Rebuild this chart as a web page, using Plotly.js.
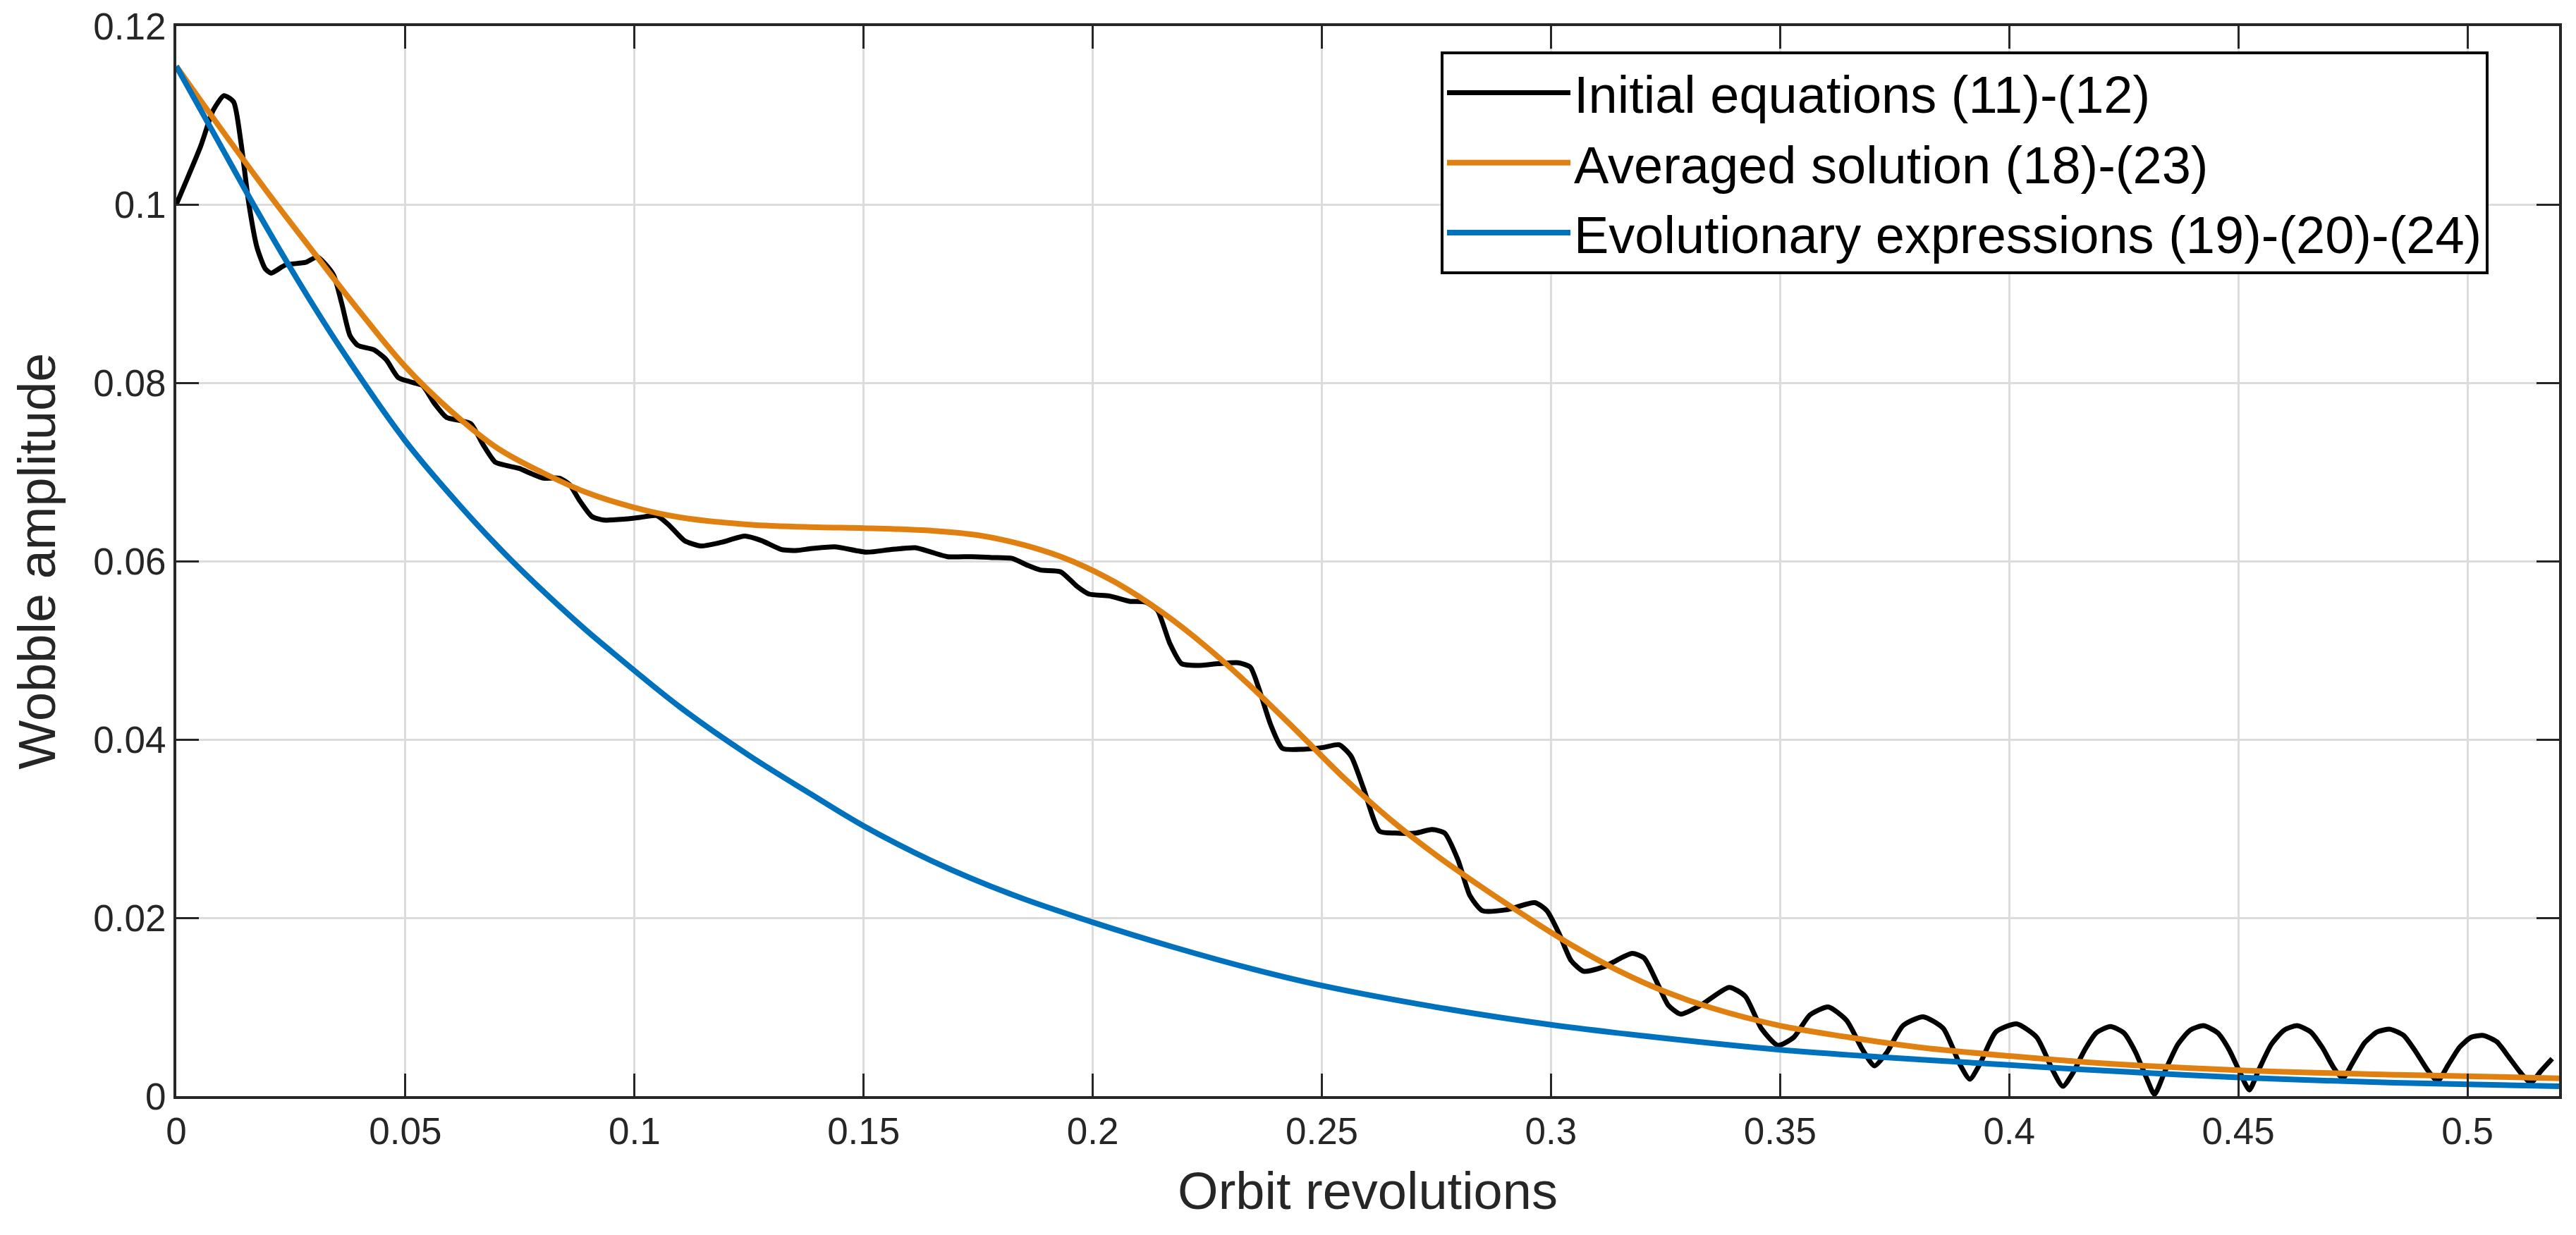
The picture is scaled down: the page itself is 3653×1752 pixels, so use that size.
<!DOCTYPE html>
<html>
<head>
<meta charset="utf-8">
<script src="https://cdn.plot.ly/plotly-3.0.1.min.js"></script>
<style>
	html, body { margin: 0; padding: 0; background: #fff; }
	#chart { width: 3653px; height: 1752px; }
</style>
</head>
<body>
<div id="chart"></div>
<script>
// values
const initialX = [
	0.0000, 0.0053, 0.0080, 0.0104, 0.0125, 0.0141, 0.0158, 0.0176, 0.0194, 0.0207,
	0.0238, 0.0282, 0.0308, 0.0343, 0.0361, 0.0379, 0.0396, 0.0431, 0.0458, 0.0484,
	0.0511, 0.0537, 0.0563, 0.0590, 0.0616, 0.0643, 0.0669, 0.0696, 0.0722, 0.0748,
	0.0775, 0.0801, 0.0836, 0.0858, 0.0880, 0.0907, 0.0933, 0.0977, 0.1012, 0.1048,
	0.1074, 0.1109, 0.1145, 0.1189, 0.1241, 0.1277, 0.1321, 0.1356, 0.1384, 0.1437,
	0.1507, 0.1560, 0.1613, 0.1648, 0.1683, 0.1736, 0.1780, 0.1824, 0.1859, 0.1886,
	0.1930, 0.1965, 0.1992, 0.2036, 0.2080, 0.2115, 0.2141, 0.2168, 0.2194, 0.2229,
	0.2274, 0.2318, 0.2344, 0.2362, 0.2388, 0.2414, 0.2459, 0.2503, 0.2538, 0.2564,
	0.2591, 0.2626, 0.2661, 0.2705, 0.2740, 0.2768, 0.2797, 0.2823, 0.2850, 0.2903,
	0.2965, 0.2991, 0.3018, 0.3044, 0.3071, 0.3115, 0.3177, 0.3203, 0.3230, 0.3256,
	0.3283, 0.3327, 0.3389, 0.3424, 0.3459, 0.3495, 0.3530, 0.3565, 0.3605, 0.3645,
	0.3680, 0.3706, 0.3733, 0.3768, 0.3812, 0.3856, 0.3892, 0.3914, 0.3936, 0.3971,
	0.4016, 0.4060, 0.4095, 0.4117, 0.4139, 0.4165, 0.4190, 0.4221, 0.4250, 0.4275,
	0.4300, 0.4317, 0.4340, 0.4368, 0.4395, 0.4424, 0.4455, 0.4480, 0.4505, 0.4524,
	0.4545, 0.4572, 0.4600, 0.4628, 0.4658, 0.4684, 0.4708, 0.4728, 0.4750, 0.4776,
	0.4803, 0.4831, 0.4861, 0.4887, 0.4912, 0.4935, 0.4958, 0.4983, 0.5008, 0.5035,
	0.5064, 0.5090, 0.5115, 0.5138, 0.5160, 0.5185,
];
const initialY = [
	0.1000, 0.1065, 0.1105, 0.1122, 0.1115, 0.1070, 0.1002, 0.0952, 0.0928, 0.0923,
	0.0932, 0.0935, 0.0941, 0.0921, 0.0889, 0.0853, 0.0842, 0.0837, 0.0826, 0.0806,
	0.0801, 0.0797, 0.0777, 0.0761, 0.0758, 0.0754, 0.0731, 0.0711, 0.0707, 0.0704,
	0.0698, 0.0693, 0.0693, 0.0686, 0.0668, 0.0650, 0.0646, 0.0647, 0.0649, 0.0651,
	0.0641, 0.0623, 0.0617, 0.0621, 0.0628, 0.0623, 0.0613, 0.0612, 0.0614, 0.0616,
	0.0610, 0.0613, 0.0615, 0.0610, 0.0605, 0.0605, 0.0604, 0.0603, 0.0595, 0.0590,
	0.0588, 0.0572, 0.0563, 0.0561, 0.0555, 0.0554, 0.0545, 0.0508, 0.0485, 0.0483,
	0.0485, 0.0486, 0.0481, 0.0458, 0.0417, 0.0390, 0.0389, 0.0391, 0.0394, 0.0381,
	0.0345, 0.0297, 0.0295, 0.0295, 0.0299, 0.0295, 0.0265, 0.0225, 0.0208, 0.0209,
	0.0217, 0.0208, 0.0182, 0.0152, 0.0140, 0.0145, 0.0160, 0.0155, 0.0129, 0.0102,
	0.0092, 0.0102, 0.0122, 0.0112, 0.0076, 0.0057, 0.0066, 0.0091, 0.0100, 0.0085,
	0.0052, 0.0034, 0.0049, 0.0079, 0.0089, 0.0076, 0.0036, 0.0019, 0.0036, 0.0072,
	0.0081, 0.0066, 0.0029, 0.0011, 0.0026, 0.0052, 0.0071, 0.0078, 0.0071, 0.0050,
	0.0020, 0.0002, 0.0028, 0.0058, 0.0074, 0.0079, 0.0071, 0.0052, 0.0025, 0.0007,
	0.0030, 0.0058, 0.0074, 0.0079, 0.0072, 0.0054, 0.0032, 0.0020, 0.0038, 0.0060,
	0.0072, 0.0075, 0.0068, 0.0050, 0.0030, 0.0017, 0.0035, 0.0055, 0.0066, 0.0068,
	0.0061, 0.0044, 0.0027, 0.0015, 0.0028, 0.0042,
];

const averagedX = [
	0.000, 0.010, 0.020, 0.030, 0.040, 0.050, 0.060, 0.070, 0.080, 0.090,
	0.100, 0.110, 0.125, 0.140, 0.150, 0.165, 0.175, 0.185, 0.195, 0.205,
	0.215, 0.225, 0.235, 0.245, 0.255, 0.265, 0.275, 0.285, 0.295, 0.305,
	0.315, 0.325, 0.335, 0.350, 0.365, 0.380, 0.400, 0.420, 0.450, 0.485,
	0.520,
];
const averagedY = [
	0.1155, 0.1083, 0.1013, 0.0946, 0.0880, 0.0818, 0.0768, 0.0727, 0.0699, 0.0676,
	0.0660, 0.0649, 0.0641, 0.0638, 0.0637, 0.0634, 0.0629, 0.0618, 0.0601, 0.0576,
	0.0543, 0.0503, 0.0457, 0.0407, 0.0356, 0.0310, 0.0270, 0.0234, 0.0200, 0.0168,
	0.0140, 0.0117, 0.0099, 0.0079, 0.0066, 0.0055, 0.0045, 0.0037, 0.0029, 0.0024,
	0.0020,
];

const evolutionX = [
	0.0000, 0.0088, 0.0176, 0.0264, 0.0352, 0.0498, 0.0616, 0.0731, 0.0880, 0.0951,
	0.1100, 0.1250, 0.1384, 0.1500, 0.1648, 0.1824, 0.2000, 0.2177, 0.2353, 0.2500,
	0.2770, 0.3000, 0.3212, 0.3500, 0.3742, 0.4000, 0.4155, 0.4500, 0.4841, 0.5200,
];
const evolutionY = [
	0.1155, 0.1074, 0.0993, 0.0916, 0.0844, 0.0736, 0.0664, 0.0601, 0.0529, 0.0498,
	0.0436, 0.0382, 0.0339, 0.0303, 0.0264, 0.0226, 0.0195, 0.0167, 0.0142, 0.0124,
	0.0098, 0.0080, 0.0067, 0.0052, 0.0043, 0.0035, 0.0030, 0.0021, 0.0015, 0.0011,
];

const seriesNames = [
	"Initial equations (11)-(12)",
	"Averaged solution (18)-(23)",
	"Evolutionary expressions (19)-(20)-(24)",
];

const xTicks = [0, 0.05, 0.1, 0.15, 0.2, 0.25, 0.3, 0.35, 0.4, 0.45, 0.5];
const xTickText = ["0", "0.05", "0.1", "0.15", "0.2", "0.25", "0.3", "0.35", "0.4", "0.45", "0.5"];
const yTicks = [0, 0.02, 0.04, 0.06, 0.08, 0.1, 0.12];
const yTickText = ["0", "0.02", "0.04", "0.06", "0.08", "0.1", "0.12"];

const FONT = "Liberation Sans, Arial, Helvetica, sans-serif";
const INK = "#262626";

const traces = [
	{
		x: initialX,
		y: initialY,
		name: seriesNames[0],
		type: "scatter",
		mode: "lines",
		line: { color: "#000000", width: 7, shape: "spline", smoothing: 0.6 },
	},
	{
		x: averagedX,
		y: averagedY,
		name: seriesNames[1],
		type: "scatter",
		mode: "lines",
		line: { color: "#e08010", width: 8, shape: "spline", smoothing: 1 },
	},
	{
		x: evolutionX,
		y: evolutionY,
		name: seriesNames[2],
		type: "scatter",
		mode: "lines",
		line: { color: "#0072bd", width: 8, shape: "spline", smoothing: 1 },
	},
];

const axisCommon = {
	showline: true,
	linecolor: INK,
	linewidth: 4,
	mirror: "allticks",
	ticks: "inside",
	ticklen: 32,
	tickwidth: 3,
	tickcolor: INK,
	showgrid: true,
	gridcolor: "#dcdcdc",
	gridwidth: 3,
	zeroline: false,
	tickfont: { family: FONT, size: 53, color: INK },
};

const layout = {
	width: 3653,
	height: 1752,
	margin: { l: 250, r: 24, t: 37, b: 197 },
	paper_bgcolor: "#ffffff",
	plot_bgcolor: "#ffffff",
	font: { family: FONT, color: INK },
	showlegend: true,
	legend: {
		x: 0.9704,
		y: 0.9763,
		xanchor: "right",
		yanchor: "top",
		bgcolor: "#ffffff",
		bordercolor: "#000000",
		borderwidth: 4,
		font: { family: FONT, size: 74, color: "#000000" },
		itemwidth: 175,
		tracegroupgap: 0,
	},
	xaxis: Object.assign({}, axisCommon, {
		range: [0, 0.52],
		tickmode: "array",
		tickvals: xTicks,
		ticktext: xTickText,
		title: { text: "Orbit revolutions", font: { family: FONT, size: 74, color: INK }, standoff: 32 },
	}),
	yaxis: Object.assign({}, axisCommon, {
		range: [0, 0.12],
		tickmode: "array",
		tickvals: yTicks,
		ticktext: yTickText,
		title: { text: "Wobble amplitude", font: { family: FONT, size: 74, color: INK }, standoff: 30 },
	}),
};

Plotly.newPlot("chart", traces, layout, { staticPlot: true, displayModeBar: false });
</script>
</body>
</html>
